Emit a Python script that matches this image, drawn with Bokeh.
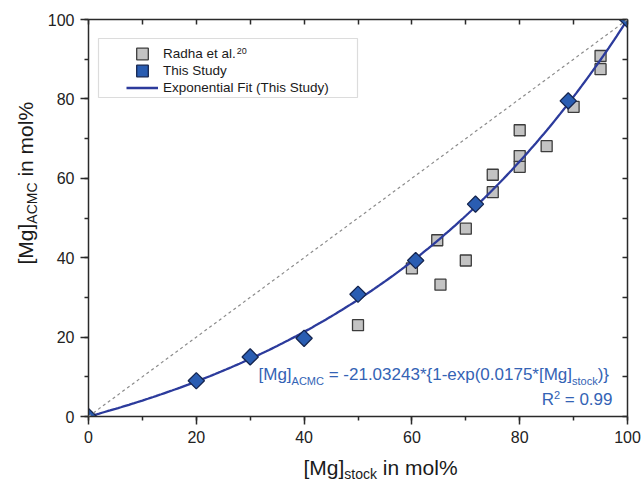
import numpy as np
from bokeh.plotting import figure
from bokeh.layouts import column, row
from bokeh.models import (Range1d, LinearAxis, SingleIntervalTicker, FixedTicker, Legend,
                          LegendItem, Label, Slope, BoxAnnotation)
from bokeh.embed import file_html
from bokeh.resources import INLINE

# ---------------- data ----------------
radha_stock = [50, 60, 64.7, 65.3, 70, 70, 75, 75, 80, 80, 80, 85, 90, 95, 95]
radha_acmc = [23, 37.3, 44.4, 33.2, 39.3, 47.3, 60.9, 56.5, 72.1, 65.6, 62.9, 68.1, 78.0, 90.8, 87.5]
study_stock = [0, 20, 30, 40, 50, 60.7, 71.8, 89, 100]
study_acmc = [0, 9.0, 15.0, 19.7, 30.8, 39.3, 53.5, 79.5, 100]
fit_a = -21.03243
fit_k = 0.0175
r2_text = "0.99"
tick_values = [0, 20, 40, 60, 80, 100]
minor_values = [10, 30, 50, 70, 90]

FONT = "Liberation Sans"
BLUE_TXT = "#3463b5"
TXT = "#1a1a1a"

# Arial / Liberation Sans advance widths (1/1000 em)
W = {' ': 278, '[': 278, ']': 278, 'M': 833, 'g': 556, 's': 500, 't': 278, 'o': 556,
     'c': 500, 'k': 500, 'i': 222, 'n': 556, 'm': 833, 'l': 222, '%': 889, 'A': 667,
     'C': 722, '=': 584, '-': 333, '.': 278, '*': 389, '{': 334, '}': 334, '(': 333,
     ')': 333, 'e': 556, 'x': 500, 'p': 556, 'R': 722, 'a': 556, 'h': 556, 'd': 556}


def tw(s, size):
    return sum(W.get(c, 556) for c in s) / 1000.0 * size


# page geometry (pixels)
CW, CH = 641, 483
FL, FR, FT, FB = 88, 627, 19, 416     # plot frame
LW = 44                               # left strip (y title)
MH = 455                              # main figure height; bottom strip below it

p = figure(width=CW - LW, height=MH, output_backend="svg", toolbar_location=None,
           x_range=Range1d(0, 100), y_range=Range1d(0, 100),
           min_border_left=FL - LW, min_border_right=CW - FR, min_border_top=FT,
           min_border_bottom=MH - FB,
           x_axis_location=None, y_axis_location=None)
p.grid.visible = False
p.outline_line_color = None
p.background_fill_color = "white"
p.border_fill_color = "white"

AX = "#2a2a2a"


def main_axis():
    return LinearAxis(ticker=SingleIntervalTicker(interval=20, num_minor_ticks=2),
                      axis_line_color=AX, axis_line_width=1.5,
                      major_tick_line_color=AX, major_tick_line_width=1.5,
                      minor_tick_line_color=AX, minor_tick_line_width=1.5,
                      major_tick_out=8, major_tick_in=0, minor_tick_out=4, minor_tick_in=0,
                      major_label_standoff=6, major_label_text_font=FONT,
                      major_label_text_font_size="16px", major_label_text_color="#222222")


def mirror_axis():
    return LinearAxis(ticker=FixedTicker(ticks=[], minor_ticks=sorted(tick_values + minor_values)),
                      axis_line_color=AX, axis_line_width=1.5,
                      minor_tick_line_color=AX, minor_tick_line_width=1.5,
                      minor_tick_out=0, minor_tick_in=5, major_tick_in=0, major_tick_out=0)


p.add_layout(main_axis(), "below")
p.add_layout(main_axis(), "left")
p.add_layout(mirror_axis(), "above")
p.add_layout(mirror_axis(), "right")

# 1:1 reference line
p.add_layout(Slope(gradient=1, y_intercept=0, line_color="#8c8c8c", line_width=1.2,
                   line_dash="3 3"))

r_radha = p.scatter(radha_stock, radha_acmc, marker="square", size=11,
                    fill_color="#c3c3c3", line_color="#3c3c3c", line_width=1.3)

fit_x = np.linspace(0, 100, 201)
fit_y = fit_a * (1 - np.exp(fit_k * fit_x))
r_fit = p.line(fit_x, fit_y, line_color="#2c3b9c", line_width=2.3)

r_study = p.scatter(study_stock, study_acmc, marker="square", angle=np.pi / 4, size=11.5,
                    fill_color="#2a5db2", line_color="#15254f", line_width=1.3)

# legend frame
xs = 100.0 / (FR - FL)
ys = 100.0 / (FB - FT)
p.add_layout(BoxAnnotation(left=(98 - FL) * xs, right=(357 - FL) * xs,
                           bottom=(FB - 97) * ys, top=(FB - 38) * ys,
                           fill_color="white", fill_alpha=1.0,
                           line_color="#8a8a8a", line_width=1.2))

# one legend per row (keeps markers full size while rows stay tight)
GH = 29
for lab, rend, yc in [("Radha et al.", r_radha, 53),
                      ("This Study", r_study, 70),
                      ("Exponential Fit (This Study)", r_fit, 87)]:
    p.add_layout(Legend(items=[LegendItem(label=lab, renderers=[rend])],
                        location=(126 - FL, FB - yc - GH / 2), padding=0, spacing=0,
                        label_height=17, glyph_height=GH, glyph_width=32,
                        label_standoff=5, margin=0,
                        label_text_font=FONT, label_text_font_size="13.5px",
                        label_text_color=TXT,
                        border_line_color=None, background_fill_alpha=0), "center")

MID = 0.35   # distance from baseline to the middle of the text box, in em


def txt(fig, s, X, Y, size, color=TXT, rotated=False, align="left", ox=FL, oy=FB):
    # (X, Y): page pixel position of the text's start on its baseline
    if rotated:
        # anchor at the centre of the text box: independent of rotation origin
        X = X - MID * size
        Y = Y - tw(s, size) / 2.0
        ang, align = np.pi / 2, "center"
    else:
        Y = Y - MID * size
        ang = 0.0
    fig.add_layout(Label(x=0, y=0, x_offset=X - ox, y_offset=oy - Y, text=s, angle=ang,
                         text_font=FONT, text_font_size=f"{size}px", text_color=color,
                         text_align=align, text_baseline="middle"))


# superscript for the legend reference
txt(p, "20", 163 + tw("Radha et al.", 13.5) + 0.5, 54, 9)

# fit equation
ES, ESS = 17, 11
X = 258
txt(p, "[Mg]", X, 380, ES, BLUE_TXT)
X += tw("[Mg]", ES)
txt(p, "ACMC", X, 384, ESS, BLUE_TXT)
X += tw("ACMC", ESS) + tw(" ", ES)
mid = f"= {fit_a}*{{1-exp({fit_k}*[Mg]"
txt(p, mid, X, 380, ES, BLUE_TXT)
X += tw(mid, ES)
txt(p, "stock", X, 384, ESS, BLUE_TXT)
X += tw("stock", ESS)
txt(p, ")}", X, 380, ES, BLUE_TXT)

# R^2
X = 612
tail = "= " + r2_text
txt(p, tail, X, 405, ES, BLUE_TXT, align="right")
X -= tw(" " + tail, ES)
txt(p, "2", X, 398, ESS, BLUE_TXT, align="right")
X -= tw("2", ESS)
txt(p, "R", X, 405, ES, BLUE_TXT, align="right")


def strip(w, h):
    f = figure(width=w, height=h, output_backend="svg", toolbar_location=None,
               x_range=Range1d(0, w), y_range=Range1d(0, h), min_border=0,
               x_axis_location=None, y_axis_location=None)
    f.grid.visible = False
    f.outline_line_color = None
    f.background_fill_color = "white"
    f.border_fill_color = "white"
    return f


MS, SS = 21, 14

# y-axis title strip: [Mg]_ACMC in mol%  (rotated, reads bottom to top)
left = strip(LW, MH)
Y = 303
txt(left, "[Mg]", 32, Y, MS, rotated=True, ox=0, oy=MH)
Y -= tw("[Mg]", MS)
txt(left, "ACMC", 36, Y, SS, rotated=True, ox=0, oy=MH)
Y -= tw("ACMC", SS) + tw(" ", MS)
txt(left, "in mol%", 32, Y, MS, rotated=True, ox=0, oy=MH)

# x-axis title strip: [Mg]_stock in mol%
bottom = strip(CW, CH - MH)
X = 303
txt(bottom, "[Mg]", X, 474, MS, ox=0, oy=CH)
X += tw("[Mg]", MS)
txt(bottom, "stock", X, 478.5, SS, ox=0, oy=CH)
X += tw("stock", SS) + tw(" ", MS)
txt(bottom, "in mol%", X, 474, MS, ox=0, oy=CH)

layout = column(row(left, p, spacing=0), bottom, spacing=0)
open("out.html", "w").write(file_html(layout, INLINE))
